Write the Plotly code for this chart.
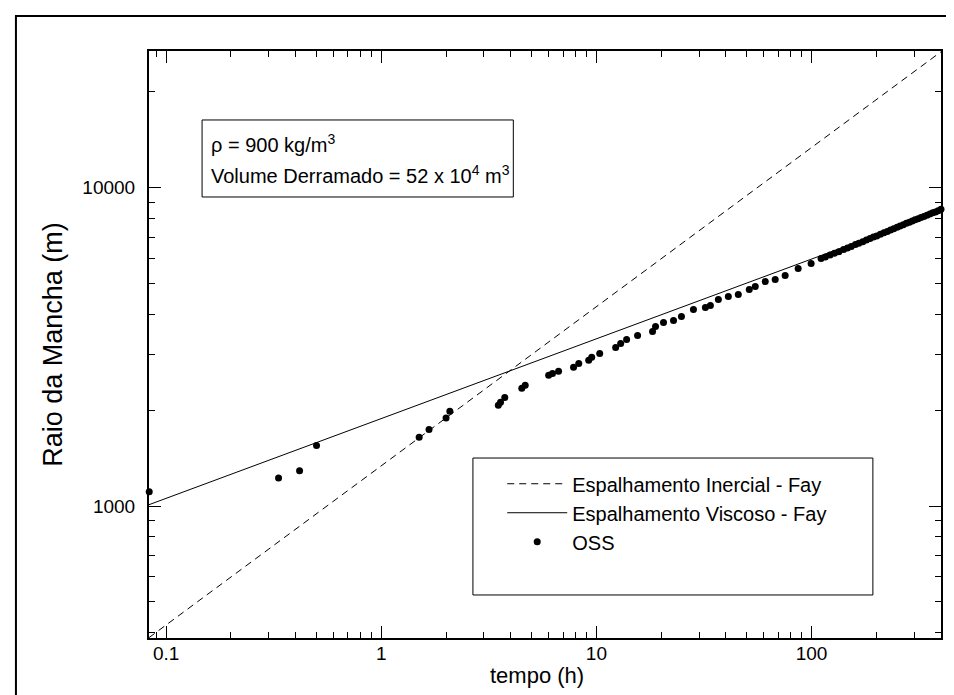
import plotly.graph_objects as go
import math

# Fay lines (end points at the limits of the axes)
tempo_fay = [0.0832, 400]
raio_inercial = [386, 26750]
raio_viscoso = [1010, 8450]

# OSS results
tempo_oss = [0.0834, 0.333, 0.417, 0.5, 1.5, 1.667, 2.0, 2.083, 3.5, 3.583, 3.75,
             4.5, 4.667, 6.0, 6.25, 6.67, 7.83, 8.28, 9.21, 9.51, 10.36, 12.29,
             12.97, 13.82, 15.54, 18.24, 18.83, 20.51, 22.83, 24.86, 28.26, 32.12,
             33.88, 36.9, 41.06, 45.68, 51.37, 54.77, 60.95, 67.8, 75.43, 86.7,
             99.6, 110.8, 116, 122, 128, 134, 141, 147, 153, 160, 166, 173, 180,
             187, 194, 201, 209, 217, 225, 233, 241, 250, 258, 267, 276, 285,
             294, 303, 313, 323, 333, 344, 355, 366, 377, 388, 400]
raio_oss = [1110, 1225, 1290, 1550, 1645, 1740, 1890, 1985, 2075, 2120, 2195,
            2345, 2395, 2575, 2610, 2650, 2730, 2807, 2869, 2932, 3018, 3151,
            3243, 3338, 3436, 3537, 3667, 3775, 3830, 3942, 4146, 4206,
            4267, 4456, 4553, 4619, 4788, 4893, 5074, 5146, 5297, 5572,
            5779, 5991, 6060, 6150, 6230, 6300, 6400, 6470, 6540, 6630, 6700,
            6770, 6860, 6930, 7000, 7060, 7140, 7220, 7290, 7370, 7430, 7510,
            7580, 7650, 7730, 7800, 7860, 7930, 8000, 8070, 8130, 8200, 8270,
            8340, 8400, 8470, 8560]

# tick positions
x_major = [0.1, 1, 10, 100]
x_labels = ["0.1", "1", "10", "100"]
x_minor = [0.09, 0.2, 0.3, 0.4, 0.5, 0.6, 0.7, 0.8, 0.9, 2, 3, 4, 5, 6, 7, 8, 9,
           20, 30, 40, 50, 60, 70, 80, 90, 200, 300]
y_major = [1000, 10000]
y_labels = ["1000", "10000"]
y_minor = [400, 500, 600, 700, 800, 900, 2000, 3000, 4000, 5000, 6000, 7000,
           8000, 9000, 20000]

fonte = "Liberation Sans, Arial, sans-serif"

fig = go.Figure()
fig.add_trace(go.Scatter(x=tempo_fay, y=raio_inercial, mode="lines",
                         name="Espalhamento Inercial - Fay",
                         line=dict(color="black", width=1, dash="7px,5px")))
fig.add_trace(go.Scatter(x=tempo_fay, y=raio_viscoso, mode="lines",
                         name="Espalhamento Viscoso - Fay",
                         line=dict(color="black", width=1)))
fig.add_trace(go.Scatter(x=tempo_oss, y=raio_oss, mode="markers", name="OSS",
                         marker=dict(color="black", size=7), cliponaxis=False))

eixo = dict(type="log", showgrid=False, zeroline=False, showline=True,
            linecolor="black", linewidth=2, mirror="allticks", ticks="inside",
            tickcolor="black", tickwidth=1, ticklen=12,
            tickfont=dict(family=fonte, size=19, color="black"))

fig.update_xaxes(eixo, range=[math.log10(0.0832), math.log10(400)],
                 tickvals=x_major, ticktext=x_labels, ticklabelstandoff=-3,
                 minor=dict(tickvals=x_minor, ticks="inside", ticklen=6,
                            tickcolor="black", tickwidth=1))
fig.update_yaxes(eixo, range=[math.log10(385), math.log10(26900)],
                 tickvals=y_major, ticktext=y_labels, ticklabelstandoff=8,
                 minor=dict(tickvals=y_minor, ticks="inside", ticklen=6,
                            tickcolor="black", tickwidth=1),
                 title=dict(text="Raio da Mancha (m)", font=dict(family=fonte, size=27, color="black"),
                            standoff=12))

# x axis title
fig.add_annotation(xref="paper", yref="paper", x=0.49, y=-0.0647, xanchor="center",
                   yanchor="middle", showarrow=False, text="tempo (h)",
                   font=dict(family=fonte, size=22, color="black"))

# outer frame, text box and legend box
fig.add_shape(type="rect", xref="paper", yref="paper", x0=-0.168, x1=1.015,
              y0=-0.109, y1=1.0596, line=dict(color="black", width=2))
fig.add_shape(type="rect", xref="paper", yref="paper", x0=0.067, x1=0.46,
              y0=0.7513, y1=0.8825, line=dict(color="black", width=1))
fig.add_shape(type="rect", xref="paper", yref="paper", x0=0.409, x1=0.914,
              y0=0.0733, y1=0.3066, line=dict(color="black", width=1))

fig.add_annotation(xref="paper", yref="paper", x=0.076, y=0.842, xanchor="left",
                   yanchor="middle", showarrow=False,
                   text="ρ = 900 kg/m<sup>3</sup>",
                   font=dict(family=fonte, size=20, color="black"))
fig.add_annotation(xref="paper", yref="paper", x=0.076, y=0.789, xanchor="left",
                   yanchor="middle", showarrow=False,
                   text="Volume Derramado = 52 x 10<sup>4</sup> m<sup>3</sup>",
                   font=dict(family=fonte, size=20, color="black"))

fig.update_layout(
    width=954, height=695,
    margin=dict(l=141, r=21, t=43, b=65),
    paper_bgcolor="white", plot_bgcolor="white",
    showlegend=True,
    legend=dict(x=0.446, y=0.296, xanchor="left", yanchor="top",
                bgcolor="rgba(0,0,0,0)", itemwidth=60,
                font=dict(family=fonte, size=20, color="black")),
)

fig.write_html("out.html")
